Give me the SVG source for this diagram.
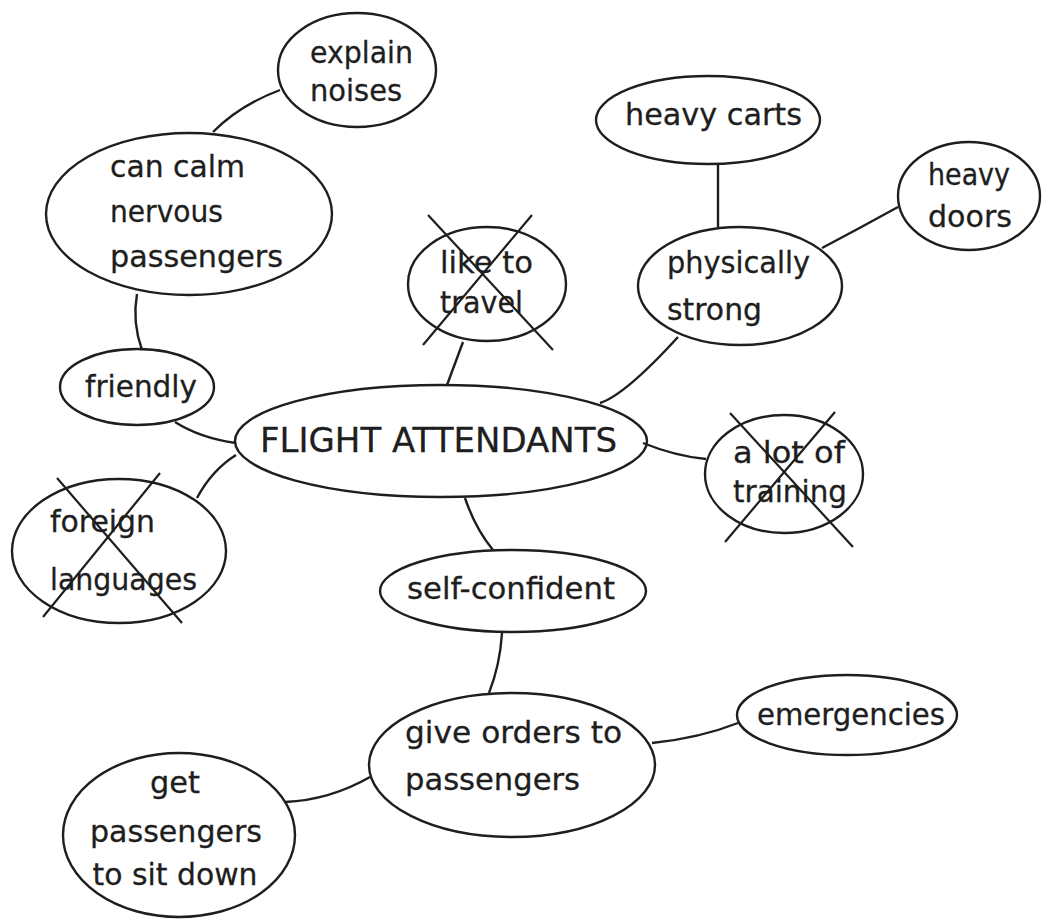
<svg xmlns="http://www.w3.org/2000/svg" width="1042" height="922" viewBox="0 0 1042 922">
<style>
.n ellipse{fill:none;stroke:#1e1e1e;stroke-width:2.4}
.x{stroke:#1e1e1e;stroke-width:2.2;fill:none}
.t{font-family:"DejaVu Sans",sans-serif;font-size:30px;fill:#1e1e1e;stroke:#1e1e1e;stroke-width:0.3}
#connectors path{fill:none;stroke:#1e1e1e;stroke-width:2.4}
</style>
<rect width="1042" height="922" fill="#fff"/>
<g id="connectors">
<path d="M213,132 Q240,105 280,90"/>
<path d="M137,294 Q132,322 142,350"/>
<path d="M175,422 Q200,438 236,443"/>
<path d="M463,342 L447,385"/>
<path d="M600,403 Q625,395 678,337"/>
<path d="M718,163 L718,227"/>
<path d="M822,248 Q860,228 898,207"/>
<path d="M643,443 Q675,456 706,459"/>
<path d="M197,498 Q212,470 236,455"/>
<path d="M465,498 Q475,528 493,550"/>
<path d="M502,633 Q500,665 489,693"/>
<path d="M652,743 Q700,738 738,723"/>
<path d="M370,777 Q330,800 285,802"/>
</g>
<g id="explain-noises" class="n">
<ellipse cx="357" cy="70" rx="79" ry="57"/>
<text class="t" x="310" y="63" textLength="103" lengthAdjust="spacingAndGlyphs">explain</text>
<text class="t" x="310" y="101" textLength="92" lengthAdjust="spacingAndGlyphs">noises</text>
</g>
<g id="can-calm" class="n">
<ellipse cx="189" cy="214" rx="143" ry="81"/>
<text class="t" x="110" y="177" textLength="135" lengthAdjust="spacingAndGlyphs">can calm</text>
<text class="t" x="110" y="222" textLength="113" lengthAdjust="spacingAndGlyphs">nervous</text>
<text class="t" x="110" y="267" textLength="173" lengthAdjust="spacingAndGlyphs">passengers</text>
</g>
<g id="friendly" class="n">
<ellipse cx="137" cy="387" rx="77" ry="38"/>
<text class="t" x="85" y="397" textLength="112" lengthAdjust="spacingAndGlyphs">friendly</text>
</g>
<g id="like-to-travel" class="n">
<ellipse cx="487" cy="284" rx="79" ry="57"/>
<text class="t" x="440" y="273" textLength="93" lengthAdjust="spacingAndGlyphs">like to</text>
<text class="t" x="440" y="313" textLength="83" lengthAdjust="spacingAndGlyphs">travel</text>
<line class="x" x1="428" y1="215" x2="553" y2="350"/>
<line class="x" x1="532" y1="215" x2="423" y2="345"/>
</g>
<g id="heavy-carts" class="n">
<ellipse cx="708" cy="120" rx="112" ry="44"/>
<text class="t" x="625" y="125" textLength="177" lengthAdjust="spacingAndGlyphs">heavy carts</text>
</g>
<g id="heavy-doors" class="n">
<ellipse cx="969" cy="196" rx="71" ry="54"/>
<text class="t" x="928" y="185" textLength="82" lengthAdjust="spacingAndGlyphs">heavy</text>
<text class="t" x="928" y="227" textLength="84" lengthAdjust="spacingAndGlyphs">doors</text>
</g>
<g id="physically-strong" class="n">
<ellipse cx="740" cy="286" rx="102" ry="59"/>
<text class="t" x="667" y="273" textLength="143" lengthAdjust="spacingAndGlyphs">physically</text>
<text class="t" x="667" y="320" textLength="95" lengthAdjust="spacingAndGlyphs">strong</text>
</g>
<g id="flight-attendants" class="n">
<ellipse cx="441" cy="441" rx="206" ry="56"/>
<text class="t" x="260" y="452" textLength="357" lengthAdjust="spacingAndGlyphs" style="font-size:34px">FLIGHT ATTENDANTS</text>
</g>
<g id="a-lot-of-training" class="n">
<ellipse cx="784" cy="474" rx="79" ry="59"/>
<text class="t" x="733" y="463" textLength="112" lengthAdjust="spacingAndGlyphs">a lot of</text>
<text class="t" x="733" y="502" textLength="114" lengthAdjust="spacingAndGlyphs">training</text>
<line class="x" x1="730" y1="413" x2="853" y2="547"/>
<line class="x" x1="835" y1="412" x2="725" y2="542"/>
</g>
<g id="foreign-languages" class="n">
<ellipse cx="119" cy="551" rx="107" ry="72"/>
<text class="t" x="50" y="532" textLength="105" lengthAdjust="spacingAndGlyphs">foreign</text>
<text class="t" x="50" y="590" textLength="147" lengthAdjust="spacingAndGlyphs">languages</text>
<line class="x" x1="57" y1="478" x2="182" y2="623"/>
<line class="x" x1="160" y1="473" x2="43" y2="617"/>
</g>
<g id="self-confident" class="n">
<ellipse cx="513" cy="591" rx="133" ry="41"/>
<text class="t" x="407" y="599" textLength="208" lengthAdjust="spacingAndGlyphs">self-confident</text>
</g>
<g id="give-orders" class="n">
<ellipse cx="512" cy="765" rx="143" ry="72"/>
<text class="t" x="405" y="743" textLength="217" lengthAdjust="spacingAndGlyphs">give orders to</text>
<text class="t" x="405" y="790" textLength="175" lengthAdjust="spacingAndGlyphs">passengers</text>
</g>
<g id="emergencies" class="n">
<ellipse cx="847" cy="715" rx="110" ry="40"/>
<text class="t" x="757" y="725" textLength="188" lengthAdjust="spacingAndGlyphs">emergencies</text>
</g>
<g id="get-passengers" class="n">
<ellipse cx="179" cy="835" rx="116" ry="82"/>
<text class="t" x="175" y="793" text-anchor="middle" textLength="50" lengthAdjust="spacingAndGlyphs">get</text>
<text class="t" x="176" y="842" text-anchor="middle" textLength="172" lengthAdjust="spacingAndGlyphs">passengers</text>
<text class="t" x="175" y="885" text-anchor="middle" textLength="165" lengthAdjust="spacingAndGlyphs">to sit down</text>
</g>
</svg>
